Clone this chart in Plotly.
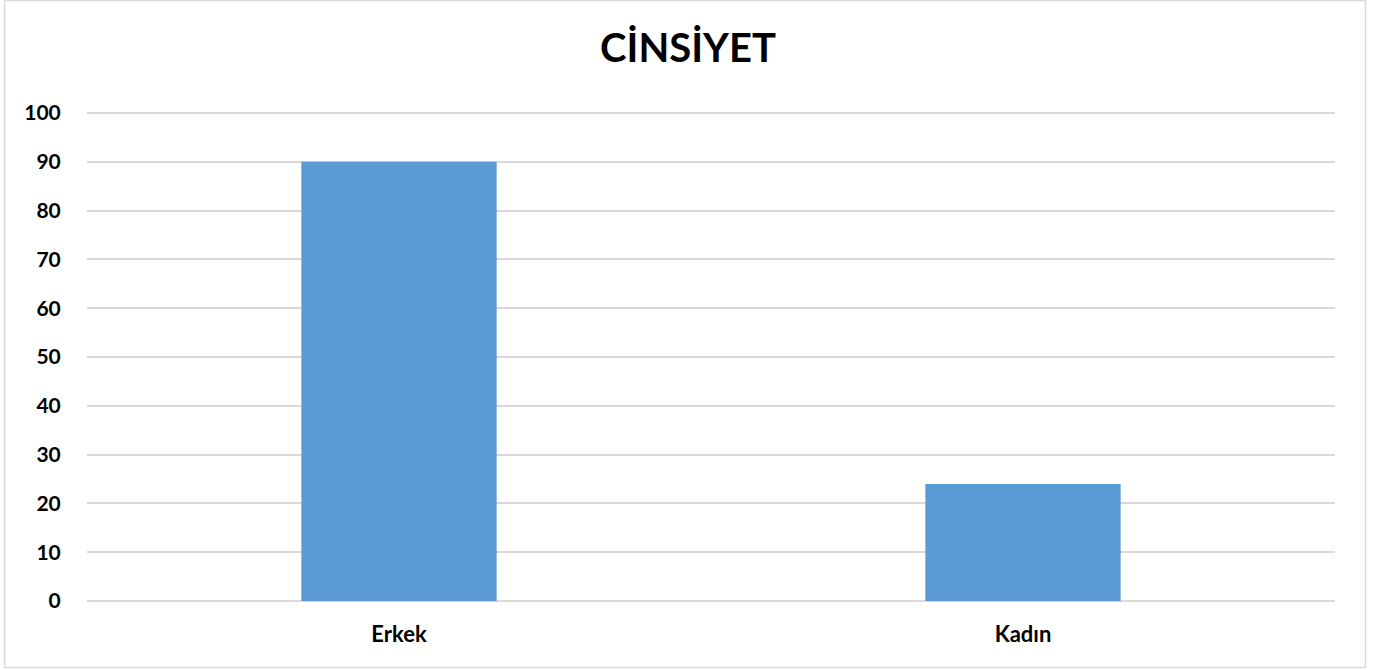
import plotly.graph_objects as go

categories = ["Erkek", "Kadın"]
values = [90, 24]
y_ticks = [0, 10, 20, 30, 40, 50, 60, 70, 80, 90, 100]

W, H = 1376, 670
PAD = 0.6                       # axis padding (data units) so edge gridlines are drawn
UPX = (600.7 - 113) / 100       # pixels per data unit in the reference
ml, mr = 87, 41
mt = 113 - PAD * UPX
mb = (H - 600.7) - PAD * UPX
pw, ph = W - ml - mr, H - mt - mb

def px_x(p):
    return (p - ml) / pw

def px_y(p):
    return (H - mb - p) / ph

fig = go.Figure(go.Bar(
    x=categories, y=values,
    marker=dict(color="#5B9BD5", line=dict(width=0)),
    width=0.313,
))

font = "Lato, 'Open Sans', sans-serif"
fig.update_layout(
    width=W, height=H,
    margin=dict(l=ml, r=mr, t=mt, b=mb),
    paper_bgcolor="white", plot_bgcolor="white",
    title=dict(text="<b>CİNSİYET</b>", x=0.5, xanchor="center", y=1 - 48 / H, yanchor="middle",
               font=dict(family=font, size=40, color="black")),
    font=dict(family=font, color="black"),
    showlegend=False,
    xaxis=dict(showgrid=False, showline=False, zeroline=False, ticks="outside", ticklen=14 - PAD * UPX,
               tickcolor="rgba(0,0,0,0)",
               tickfont=dict(family=font, size=22, color="black"),
               tickvals=categories, ticktext=["<b>%s</b>" % c for c in categories]),
    yaxis=dict(range=[-PAD, 100 + PAD], tickvals=y_ticks, ticktext=["<b>%d</b>" % t for t in y_ticks],
               showgrid=True, gridcolor="#D9D9D9", gridwidth=1.5,
               zeroline=True, zerolinecolor="#D9D9D9", zerolinewidth=1.5, showline=False,
               ticks="outside", ticklen=21, tickcolor="rgba(0,0,0,0)",
               tickfont=dict(family=font, size=21, color="black")),
    shapes=[dict(type="rect", xref="paper", yref="paper",
                 x0=px_x(4.5), x1=px_x(1365.5), y0=px_y(667), y1=px_y(0.75),
                 line=dict(color="#D9D9D9", width=1.5), fillcolor="rgba(0,0,0,0)", layer="below")],
)

fig.write_html("out.html", config={"displayModeBar": False},
               post_script="document.body.style.margin='0';document.body.style.overflow='hidden';")
